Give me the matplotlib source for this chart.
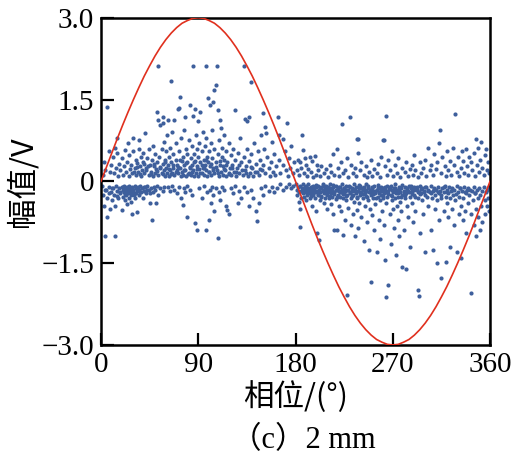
import matplotlib
matplotlib.use("Agg")
import matplotlib.pyplot as plt
import numpy as np

# ---------------- data ----------------
x_ticks = [0, 90, 180, 270, 360]
y_ticks = [-3.0, -1.5, 0.0, 1.5, 3.0]
y_ticklabels = ["\u22123.0", "\u22121.5", "0", "1.5", "3.0"]

# reference voltage curve (read every 5 degrees)
sine_phase = list(range(0, 361, 5))
sine_amp = [0, 0.26, 0.52, 0.78, 1.03, 1.27, 1.5, 1.72, 1.93, 2.12, 2.3, 2.46, 2.6, 2.72, 2.82, 2.9, 2.95, 2.99, 3.0,
            2.99, 2.95, 2.9, 2.82, 2.72, 2.6, 2.46, 2.3, 2.12, 1.93, 1.72, 1.5, 1.27, 1.03, 0.78, 0.52, 0.26, 0,
            -0.26, -0.52, -0.78, -1.03, -1.27, -1.5, -1.72, -1.93, -2.12, -2.3, -2.46, -2.6, -2.72, -2.82, -2.9, -2.95, -2.99, -3.0,
            -2.99, -2.95, -2.9, -2.82, -2.72, -2.6, -2.46, -2.3, -2.12, -1.93, -1.72, -1.5, -1.27, -1.03, -0.78, -0.52, -0.26, 0]

# PD pulses, positive half-cycle, positive amplitude
pos_first = [(2,0.12),(3,0.35),(4,0.2),(5.5,1.37),(7,0.55),(8,0.18),(9,0.3),(11,0.45),(12,0.15),(13,0.62),(14,0.25),
    (15,0.8),(15,0.52),(16,0.1),(17,0.32),(18,0.2),(19,0.42),(20,0.12),(21,0.28),(22,0.58),(23,0.18),(24,0.35),(25,0.7),
    (26,0.1),(26,0.48),(27,0.22),(28,0.3),(29,0.15),(30,0.55),(30,0.8),(31,0.25),(32,0.12),(32,0.4),(33,0.33),(34,0.18),
    (35,0.6),(35,0.75),(36,0.28),(37,0.1),(37,0.45),(38,0.2),(39,0.52),(40,0.32),(40,0.15),(41,0.88),(42,0.25),(43,0.42),
    (44,0.12),(44,0.6),(45,0.3),
    (46,0.18),(47,0.4),(48,0.1),(48,0.65),(49,0.28),(50,0.15),(50,0.5),(51,0.22),(52,1.28),(52,0.35),(53,2.12),(53,1.13),
    (53,0.12),(54,0.45),(55,1.03),(55,0.25),(56,0.6),(56,0.15),(57,1.07),(57,1.18),(57,0.32),(58,0.2),(58,0.72),(59,0.1),
    (59,0.4),(60,0.55),(60,0.25),
    (61,0.15),(61,0.85),(62,1.13),(62,0.3),(63,0.45),(63,0.1),(64,0.2),(64,0.62),(65,1.84),(65,0.35),(66,0.15),(66,0.9),
    (67,0.25),(67,0.5),(68,1.13),(68,0.12),(69,0.4),(69,0.7),(70,0.2),(70,0.3),(71,1.33),(71,0.15),(72,1.35),(72,0.55),
    (73,1.55),(73,0.25),(74,0.1),(74,0.8),(75,0.38),(75,0.18),
    (76,0.45),(76,0.12),(77,0.95),(77,0.3),(78,1.18),(78,0.2),(79,0.6),(79,0.1),(80,0.35),(80,0.5),(81,0.15),(81,0.75),
    (82,1.4),(82,0.25),(83,0.42),(83,0.12),(84,0.65),(84,0.3),(85,2.12),(85,1.2),(85,0.2),(86,0.5),(86,0.1),(87,1.32),
    (87,0.38),(88,0.85),(88,0.15),(89,0.28),(89,0.6),(90,0.45),(90,0.1),(90,1.1)]
pos_second = [(91,0.7),(91,0.22),(92,1.28),(92,0.35),(93,0.15),(93,0.55),(94,0.9),(94,0.25),(95,0.4),(95,0.12),(96,0.65),
    (96,0.3),(97,2.12),(97,0.2),(97,0.8),(98,0.45),(98,0.1),(99,1.53),(99,0.35),(100,0.55),(100,0.18),(101,1.4),(101,0.28),
    (102,0.7),(102,0.12),(103,0.42),(103,0.95),(104,1.46),(104,0.25),(105,1.68),(105,0.6),(105,0.15),
    (106,1.77),(106,0.35),(107,2.12),(107,0.2),(108,1.3),(108,0.5),(109,0.1),(109,0.75),(110,1.13),(110,0.3),(111,0.98),
    (111,0.18),(112,0.45),(112,0.62),(113,0.12),(113,0.28),(114,0.85),(114,0.4),(115,0.2),(116,0.55),(116,0.1),(117,0.35),
    (118,0.7),(118,0.15),(119,0.25),(120,0.48),(120,0.12),
    (121,0.3),(122,0.6),(123,0.18),(124,1.31),(124,0.4),(125,0.1),(126,0.25),(127,0.52),(128,0.15),(129,0.8),(130,0.35),
    (131,0.12),(132,2.12),(132,0.45),(133,1.15),(133,0.2),(134,0.28),(135,1.1),(135,0.6),(136,0.1),(137,1.18),(137,0.38),
    (138,0.15),(139,1.83),(139,0.5),(140,0.25),
    (141,0.1),(142,0.7),(143,0.32),(144,0.18),(145,0.55),(146,0.12),(147,0.4),(148,0.85),(149,0.2),(150,1.25),(150,0.3),
    (151,0.6),(152,1.0),(152,0.15),(153,0.88),(154,0.45),(155,0.25),(156,0.1),(157,0.35),(158,0.72),(159,0.18),(160,0.5),
    (161,0.12),(162,0.28),(164,1.18),(165,0.85),(165,0.4),(166,0.15),(168,0.78),(168,0.3),(170,0.55),(171,0.2),(172,1.07),
    (173,0.1),(174,0.42),(175,0.25),(176,0.65),(178,0.15),(179,0.35)]
pos_dense = [(30.5,0.18),(33.5,0.26),(36.5,0.14),(38.5,0.36),(41.5,0.2),(43.5,0.28),(46.5,0.13),(49.5,0.32),(51.5,0.19),
    (54.5,0.27),(57.5,0.14),(59.5,0.35),(62.5,0.22),(64.5,0.13),(66.5,0.3),(69.5,0.17),(71.5,0.26),(73.5,0.4),(76.5,0.2),
    (78.5,0.33),(80.5,0.14),(82.5,0.27),(84.5,0.18),(86.5,0.36),(88.5,0.22),(91.5,0.15),(93.5,0.3),(95.5,0.24),(97.5,0.4),
    (99.5,0.17),(101.5,0.32),(103.5,0.2),(106.5,0.27),(108.5,0.16),(110.5,0.38),(113.5,0.22),(115.5,0.3),(118.5,0.14),
    (121.5,0.24),(124.5,0.18),(127.5,0.3),(130.5,0.2),(134.5,0.15),(138.5,0.26),(142.5,0.18),(147.5,0.22)]

# positive half-cycle, negative amplitude
neg_first = [(1,-0.08),(2,-0.25),(3,-0.45),(4,-1.0),(5,-0.15),(6,-0.65),(6,-0.3),(7,-0.1),(8,-0.5),(9,-0.2),(10,-0.35),
    (11,-0.12),(12,-0.25),(13,-1.0),(13,-0.45),(14,-0.08),(15,-0.18),(16,-0.3),(17,-0.12),(18,-0.22),(19,-0.52),(19,-0.1),
    (20,-0.15),(20,-0.28),(21,-0.08),(21,-0.2),(22,-0.35),(22,-0.12),(23,-0.18),(23,-0.25),(24,-0.1),(24,-0.42),(25,-0.15),
    (25,-0.22),(26,-0.3),(26,-0.08),(27,-0.18),(27,-0.12),(28,-0.25),(28,-0.38),(29,-0.6),(29,-0.1),(30,-0.2),(30,-0.15),
    (31,-0.3),(31,-0.08),(32,-0.12),(32,-0.22),(33,-0.56),(33,-0.18),(34,-0.1),(35,-0.25),(35,-0.15),(36,-0.08),(37,-0.2),
    (38,-0.12),(39,-0.3),(40,-0.18),(41,-0.1),(42,-0.22),(43,-0.08),(44,-0.15),(45,-0.4),(46,-0.12),(47,-0.7),(48,-0.2),
    (49,-0.1),(50,-0.15),(51,-0.4),(52,-0.08),(53,-0.25),(55,-0.12),(57,-0.18),(58,-0.1),
    (3.5,-0.16),(7.5,-0.22),(10.5,-0.12),(14.5,-0.26),(17.5,-0.19),(20.5,-0.1),(22.5,-0.24),(24.5,-0.17),(26.5,-0.2),
    (28.5,-0.13),(30.5,-0.25),(33.5,-0.14),(36.5,-0.2),(39.5,-0.1),(42.5,-0.16),(45.5,-0.22)]
neg_second = [(62,-0.1),(64,-0.18),(66,-0.08),(68,-0.15),(70,-0.22),(72,-0.1),(74,-0.3),(76,-0.43),(77,-0.12),(78,-0.2),
    (80,-0.65),(80,-0.08),(82,-0.15),(84,-0.25),(87,-0.77),(89,-0.9),(91,-0.12),(93,-0.3),(95,-0.08),(97,-0.89),(98,-0.2),
    (100,-0.7),(101,-0.15),(102,-0.4),(103,-0.1),(104,-0.25),(105,-0.55),(106,-0.12),(108,-1.04),(109,-0.2),(110,-0.35),
    (112,-0.1),(114,-0.15),(116,-0.45),(117,-0.52),(118,-0.6),(120,-0.12),(122,-0.22),(124,-0.08),(127,-0.4),(128,-0.18),
    (130,-0.3),(132,-0.1),(135,-0.2),(137,-0.45),(139,-0.15),(141,-0.3),(143,-0.55),(144,-0.72),(146,-0.4),(148,-0.12),
    (150,-0.25),(152,-0.08),(155,-0.18),(158,-0.1),(160,-0.2),(163,-0.12),(166,-0.05),(168,-0.15),(171,-0.1),(174,-0.05),
    (176,-0.12),(178,-0.08)]

# negative half-cycle, positive amplitude
pos_third = [(181,0.2),(182,0.4),(183,0.12),(184,0.35),(185,0.25),(186,0.85),(187,0.58),(188,0.15),(189,0.42),(190,0.3),
    (191,0.1),(192,0.22),(193,0.45),(194,0.18),(195,0.38),(196,0.08),(198,0.47),(199,0.12),(200,0.3),(201,0.2),(203,0.1),
    (204,0.28),(206,0.15),(208,0.22),(210,0.08),(212,0.3),(213,0.18),(215,0.5),(216,0.12),(218,0.6),(219,0.25),(220,0.1),
    (222,0.35),(223,1.05),(224,0.15),(226,0.2),(228,0.42),(229,0.08),(230,1.18),(231,0.3),(233,0.15),(235,0.25),(236,0.1),
    (237,0.78),(238,0.78),(238,0.52),(240,0.2),(241,0.35),(243,0.12),(245,0.28),(246,0.08),(248,0.18),(250,0.4),(251,0.1),
    (253,0.22),(255,0.15),(256,0.32),(258,0.08),(259,0.45),(261,0.76),(262,0.76),(263,0.28),(264,1.2),(265,0.12),(266,0.4),
    (267,0.2),(269,0.55),(270,0.1),(272,0.3),(274,0.15),(275,0.42),(277,0.08),(279,0.25),(281,0.18),(282,0.35),(284,0.1),
    (286,0.22),(288,0.3),(289,0.12),(290,0.48),(291,0.2),(293,0.08),(295,0.35),(296,0.15),(298,0.25),(300,0.4),(301,0.1),
    (303,0.62),(304,0.2),(305,0.3),(307,0.12),(308,0.5),(310,0.22),(311,0.35),(313,0.7),(314,0.94),(315,0.15),(316,0.45),
    (318,0.28),(319,0.1),(320,0.55),(321,0.2),(323,0.38),(324,0.12),(326,0.62),(327,0.3),(328,1.24),(329,0.18),(330,0.45),
    (331,0.1),(333,0.25),(334,0.55),(335,0.38),(336,0.15),(338,0.6),(339,0.28),(340,0.12),(341,0.45),(342,0.35),(343,0.2),
    (345,0.52),(346,0.1),(347,0.78),(348,0.3),(349,0.62),(350,0.18),(351,0.4),(352,0.72),(353,0.25),(354,0.12),(355,0.48),
    (356,0.6),(357,0.2),(358,0.35),(359,0.15)]

# negative half-cycle, negative amplitude
neg_third = [(180,-0.05),(181,-0.15),(181,-0.25),(182,-0.1),(183,-0.2),(183,-0.38),(184,-0.5),(184,-0.83),(184,-0.08),
    (185,-0.18),(185,-0.3),(186,-0.12),(187,-0.22),(187,-0.05),(188,-0.15),(188,-0.28),(189,-0.1),(189,-0.2),(190,-0.35),
    (190,-0.08),(191,-0.18),(191,-0.25),(192,-0.12),(192,-0.05),(193,-0.22),(193,-0.3),(194,-0.15),(194,-0.1),(195,-0.2),
    (195,-0.45),(196,-0.08),(196,-0.25),(197,-0.15),(197,-0.12),(198,-0.3),(198,-0.2),(199,-0.1),(199,-0.55),(200,-0.18),
    (200,-0.95),
    (201,-0.08),(201,-0.25),(202,-1.07),(202,-0.15),(203,-0.2),(203,-0.35),(204,-0.1),(204,-0.28),(205,-0.18),(205,-0.05),
    (206,-0.22),(206,-0.4),(207,-0.12),(207,-0.3),(208,-0.15),(208,-0.08),(209,-0.25),(209,-0.5),(210,-0.18),(210,-0.1),
    (211,-0.3),(211,-0.2),(212,-0.12),(212,-0.05),(213,-0.22),(213,-0.42),(214,-0.15),(214,-0.28),(215,-0.1),(215,-0.6),
    (216,-0.89),(216,-0.2),(217,-0.08),(217,-0.32),(218,-0.89),(218,-0.15),(219,-0.25),(219,-0.12),(220,-0.18),(220,-0.45),
    (221,-0.1),(221,-0.28),(222,-0.2),(222,-0.55),(223,-0.15),(223,-0.05),(224,-0.98),(224,-0.3),(225,-0.12),(225,-0.22),
    (226,-0.18),(226,-0.7),(227,-0.08),(227,-0.35),(228,-2.08),(228,-0.25),(229,-0.15),(229,-0.48),(230,-0.1),(230,-0.2),
    (231,-0.3),(231,-0.8),(232,-0.12),(232,-0.18),(233,-0.6),(233,-0.25),(234,-0.05),(234,-0.38),(235,-0.15),(235,-1.0),
    (236,-0.22),(236,-0.1),(237,-0.3),(237,-0.52),(238,-0.85),(238,-0.18),(239,-0.12),(239,-0.4),(240,-0.25),(240,-0.08),
    (241,-0.2),(241,-0.65),(242,-0.15),(242,-0.3),(243,-0.1),(243,-1.1),(244,-0.22),(244,-0.45),(245,-0.18),(245,-0.05),
    (246,-0.28),(246,-0.75),(247,-0.12),(247,-0.35),(248,-0.2),(248,-1.25),(249,-0.15),(249,-0.5),(250,-1.84),(250,-0.25),
    (251,-0.1),(251,-0.62),(252,-0.3),(252,-0.18),(253,-0.9),(253,-0.08),(254,-0.22),(254,-0.42),(255,-0.15),(255,-1.3),
    (256,-0.28),(256,-0.12),(257,-0.7),(257,-0.2),(258,-0.35),(258,-1.05),(259,-0.1),(259,-0.25),(260,-0.55),(260,-0.18),
    (261,-0.3),(261,-0.12),(262,-0.8),(262,-0.22),(263,-1.45),(263,-0.15),(264,-2.12),(264,-0.4),(265,-0.08),(265,-0.28),
    (266,-1.9),(266,-0.18),(267,-0.6),(267,-0.1),(268,-0.25),(268,-1.15),(269,-0.35),(269,-0.15),(270,-0.5),(270,-0.2),
    (271,-0.85),(271,-0.12),(272,-0.3),(272,-0.05),(273,-1.35),(273,-0.22),(274,-0.45),(274,-0.15),(275,-0.7),(275,-0.28),
    (276,-0.1),(276,-1.0),(277,-0.2),(277,-0.38),(278,-0.55),(278,-0.12),(279,-1.57),(279,-0.25),(280,-0.18),(280,-0.9),
    (281,-0.3),(281,-0.1),(282,-1.6),(282,-0.22),(283,-0.45),(283,-0.15),(284,-0.65),(285,-0.2),(285,-0.08),(286,-1.2),
    (286,-0.28),(287,-0.12),(288,-0.4),(288,-0.18),(289,-0.75),(290,-0.25),(290,-0.1),(291,-0.55),(292,-0.15),(293,-1.99),
    (293,-0.3),(294,-0.2),(294,-2.1),(295,-0.08),(295,-0.95),(296,-0.22),(297,-0.35),(297,-0.12),(298,-0.6),(299,-0.18),
    (300,-1.3),(300,-0.25),
    (301,-0.1),(302,-0.28),(303,-0.45),(303,-0.15),(304,-0.2),(305,-0.9),(305,-0.08),(306,-0.3),(307,-1.26),(307,-0.18),
    (308,-0.12),(309,-0.5),(309,-0.25),(310,-0.15),(311,-1.5),(311,-0.35),(312,-0.1),(313,-0.22),(313,-0.7),(314,-0.18),
    (315,-1.77),(315,-0.3),(316,-0.12),(317,-0.55),(317,-0.2),(318,-0.08),(319,-1.48),(319,-0.28),(320,-0.15),(320,-0.4),
    (321,-0.65),(321,-0.22),(322,-0.1),(323,-0.3),(323,-1.2),(324,-0.18),(325,-0.5),(325,-0.12),(326,-0.25),(327,-0.8),
    (327,-0.15),(328,-0.35),(329,-1.3),(329,-0.08),(330,-0.2),(331,-0.6),(331,-0.28),(332,-0.12),(333,-0.45),(333,-1.4),
    (334,-0.18),(335,-0.7),(335,-0.3),(336,-0.1),(337,-0.55),(338,-0.22),(338,-0.95),(339,-0.15),(340,-0.4),(340,-0.12),
    (341,-0.25),(342,-2.04),(342,-0.6),(343,-0.18),(344,-0.35),(345,-0.8),(345,-0.1),(346,-0.22),(347,-0.5),(347,-1.0),
    (348,-0.15),(349,-0.3),(349,-0.65),(350,-0.12),(351,-0.9),(351,-0.25),(352,-0.45),(353,-0.18),(353,-0.75),(354,-0.1),
    (355,-0.35),(355,-0.6),(356,-0.2),(357,-0.45),(357,-0.15),(358,-0.3),(359,-0.1),(359,-0.55)]
neg_dense = [(190.5,-0.14),(191.5,-0.22),(192.5,-0.17),(194.5,-0.26),(195.5,-0.11),(197.5,-0.19),(198.5,-0.07),(200.5,-0.24),
    (202.5,-0.13),(203.5,-0.27),(205.5,-0.16),(206.5,-0.09),(208.5,-0.21),(209.5,-0.14),(211.5,-0.26),(212.5,-0.18),
    (214.5,-0.07),(215.5,-0.23),(217.5,-0.15),(218.5,-0.28),(220.5,-0.11),(221.5,-0.19),(223.5,-0.24),(224.5,-0.13),
    (226.5,-0.27),(227.5,-0.16),(229.5,-0.09),(230.5,-0.21),(232.5,-0.26),(233.5,-0.14),(235.5,-0.18),(236.5,-0.29),
    (238.5,-0.07),(239.5,-0.2),(241.5,-0.12),(242.5,-0.24),(244.5,-0.16),(245.5,-0.27),(247.5,-0.09),(248.5,-0.19),
    (250.5,-0.13),(251.5,-0.23),(253.5,-0.17),(254.5,-0.3),(256.5,-0.06),(257.5,-0.21),(259.5,-0.15),(260.5,-0.26),
    (262.5,-0.11),(263.5,-0.19),(265.5,-0.24),(266.5,-0.14),(268.5,-0.08),(269.5,-0.27),(271.5,-0.18),(272.5,-0.12),
    (274.5,-0.22),(275.5,-0.16),(277.5,-0.29),(278.5,-0.07),(280.5,-0.2),(281.5,-0.25),(283.5,-0.13),(284.5,-0.18),
    (286.5,-0.09),(287.5,-0.23),(289.5,-0.16),(290.5,-0.28),(292.5,-0.11),(293.5,-0.19),(295.5,-0.24),(296.5,-0.14),
    (298.5,-0.2),(299.5,-0.1),(302.5,-0.17),(305.5,-0.22),(308.5,-0.14),(311.5,-0.19),(314.5,-0.25),(317.5,-0.11),
    (320.5,-0.2),(324.5,-0.16),(328.5,-0.23),(332.5,-0.13),(336.5,-0.19),(341.5,-0.15),(346.5,-0.21)]

groups = [pos_first, pos_second, pos_dense, neg_first, neg_second, pos_third, neg_third, neg_dense]

# ---------------- plot ----------------
serif = ["Liberation Serif", "Noto Sans CJK SC", "DejaVu Sans"]
cjk = ["Noto Sans CJK SC", "Liberation Serif", "DejaVu Sans"]

fig = plt.figure(figsize=(5.18, 4.68), dpi=100)
ax = fig.add_axes([0.195, 0.263, 0.751, 0.699])

pts = np.array([p for g in groups for p in g])
ax.scatter(pts[:, 0], pts[:, 1], s=9, color="#3e5f9c", linewidths=0, zorder=2)
ax.plot(sine_phase, sine_amp, color="#e0301e", lw=1.2, zorder=3)

ax.set_xlim(0, 360)
ax.set_ylim(-3.0, 3.0)
ax.set_xticks(x_ticks)
ax.set_xticklabels([str(t) for t in x_ticks], fontfamily=serif, fontsize=21)
ax.set_yticks(y_ticks)
ax.set_yticklabels(y_ticklabels, fontfamily=serif, fontsize=21)
ax.tick_params(direction="in", length=9, width=1.6, top=False, right=False, pad=5)
for s in ax.spines.values():
    s.set_linewidth(1.8)

ax.set_xlabel("相位/(°)", fontfamily=cjk, fontsize=22, labelpad=2)
ax.set_ylabel("幅值/V", fontfamily=cjk, fontsize=22, labelpad=2)
fig.text(0.585, 0.058, "（c）2 mm", ha="center", va="center", fontfamily=serif, fontsize=22)

fig.savefig("out.png", dpi=100)
